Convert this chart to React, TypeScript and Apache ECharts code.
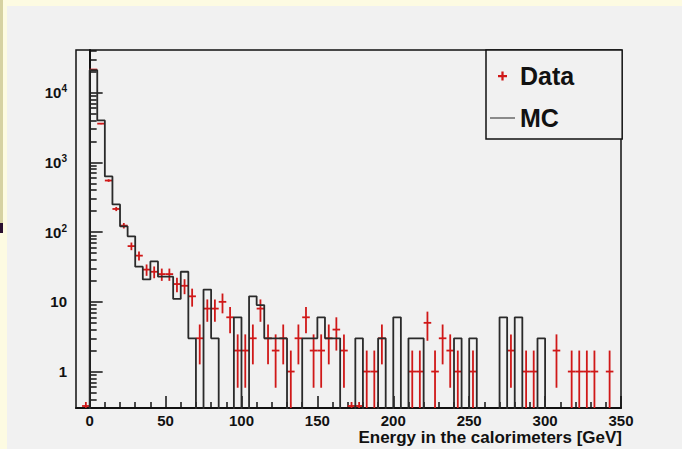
import React, { useEffect, useRef } from "react";
import * as echarts from "echarts";

// ---- data (5 GeV bins from 0 to 350 GeV) ----
const BIN_WIDTH = 5;
const N_BINS = 70;
const binCenters = Array.from({ length: N_BINS }, (_, k) => k * BIN_WIDTH + BIN_WIDTH / 2);
const binLowEdges = Array.from({ length: N_BINS }, (_, k) => k * BIN_WIDTH);

const dataCounts = [
  21500, 3600, 550, 215, 124, 63, 46, 29, 27, 25,
  25, 18, 17, 12, 3, 8, 8, 10, 6, 2,
  2, 3, 8, 3, 2, 3, 1, 3, 6, 2,
  2, 3, 4, 2, 0, 0, 1, 1, 3, 0,
  0, 0, 1, 1, 5, 1, 3, 2, 1, 0,
  1, 0, 0, 0, 0, 2, 0, 1, 1, 0,
  0, 2, 0, 1, 1, 1, 1, 0, 1, 0,
];

const mcCounts = [
  21000, 4000, 630, 250, 121, 87, 32, 21, 38, 23,
  23, 11, 27, 3, 0, 15, 3, 0, 0, 6,
  0, 12, 9, 3, 3, 3, 0, 0, 3, 3,
  6, 3, 3, 0, 0, 3, 0, 0, 3, 0,
  6, 0, 3, 3, 0, 0, 0, 0, 3, 0,
  3, 0, 0, 0, 6, 0, 6, 0, 0, 3,
  0, 0, 0, 0, 0, 0, 0, 0, 0, 0,
];

// empty bins whose marker sits on the lower frame
const emptyBinMarks = [-2.5, 172.5, 177.5];

const xMajorTicks = [0, 50, 100, 150, 200, 250, 300, 350];
const xMinorTicks = [
  10, 20, 30, 40, 60, 70, 80, 90, 110, 120, 130, 140, 160, 170, 180, 190,
  210, 220, 230, 240, 260, 270, 280, 290, 310, 320, 330, 340,
];
const yMajorTicks = [1, 10, 100, 1000, 10000];
const yMinorTicks = [
  0.3, 0.4, 0.5, 0.6, 0.7, 0.8, 0.9,
  2, 3, 4, 5, 6, 7, 8, 9,
  20, 30, 40, 50, 60, 70, 80, 90,
  200, 300, 400, 500, 600, 700, 800, 900,
  2000, 3000, 4000, 5000, 6000, 7000, 8000, 9000,
  20000, 30000, 40000,
];

const X_MIN = -9;
const X_MAX = 350;
const Y_MIN = 0.3;
const Y_MAX = 41000;
const FLOOR = 0.1;

const FONT = "'Liberation Sans', Arial, Helvetica, sans-serif";
const RED = "#d01818";
const INK = "#111111";
const BG = "#f1f1f1";

export default function App() {
  const ref = useRef<HTMLDivElement>(null);

  useEffect(() => {
    if (!ref.current) return;
    const chart = echarts.init(ref.current, null, { renderer: "svg" });

    const mcLine: number[][] = [[binLowEdges[0], FLOOR]];
    for (let k = 0; k < N_BINS; k++) {
      mcLine.push([binLowEdges[k], mcCounts[k] > 0 ? mcCounts[k] : FLOOR]);
    }
    const lastVal = mcCounts[N_BINS - 1] > 0 ? mcCounts[N_BINS - 1] : FLOOR;
    mcLine.push([X_MAX, lastVal]);

    const dataPoints = binCenters
      .map((c, k) => [c, dataCounts[k]])
      .filter((p) => p[1] > 0);

    const renderData = (params: any, api: any) => {
      const x = api.value(0);
      const n = api.value(1);
      const err = Math.sqrt(n);
      const lo = Math.max(n - err, Y_MIN);
      const hi = Math.min(n + err, Y_MAX);
      const c = api.coord([x, n]);
      const l = api.coord([x - BIN_WIDTH / 2, n]);
      const r = api.coord([x + BIN_WIDTH / 2, n]);
      const pLo = api.coord([x, lo]);
      const pHi = api.coord([x, hi]);
      const st = { stroke: RED, lineWidth: 1.8 };
      return {
        type: "group",
        children: [
          { type: "line", shape: { x1: l[0], y1: c[1], x2: r[0], y2: c[1] }, style: st },
          { type: "line", shape: { x1: c[0], y1: pLo[1], x2: c[0], y2: pHi[1] }, style: st },
        ],
      };
    };

    const renderEmpty = (params: any, api: any) => {
      const x = api.value(0);
      const c = api.coord([x, Y_MIN]);
      const l = api.coord([x - BIN_WIDTH / 2, Y_MIN]);
      const r = api.coord([x + BIN_WIDTH / 2, Y_MIN]);
      const st = { stroke: RED, lineWidth: 1.8 };
      return {
        type: "group",
        children: [
          { type: "line", shape: { x1: l[0], y1: c[1] - 2, x2: r[0], y2: c[1] - 2 }, style: st },
          { type: "line", shape: { x1: c[0], y1: c[1] - 6, x2: c[0], y2: c[1] }, style: st },
        ],
      };
    };

    const option: any = {
      animation: false,
      backgroundColor: BG,
      textStyle: { fontFamily: FONT },
      graphic: [
        { type: "rect", shape: { x: 0, y: 0, width: 682, height: 6 }, style: { fill: "#fdfbe2" }, silent: true },
        { type: "rect", shape: { x: 0, y: 0, width: 7, height: 449 }, style: { fill: "#fdfbe2" }, silent: true },
        { type: "rect", shape: { x: 0, y: 0, width: 3, height: 223 }, style: { fill: "#d6d2a2" }, silent: true },
        { type: "rect", shape: { x: 0, y: 223, width: 3, height: 10 }, style: { fill: "#2a1030" }, silent: true },
        {
          type: "text",
          right: 60,
          top: 429,
          style: {
            text: "Energy in the calorimeters [GeV]",
            font: `bold 17px ${FONT}`,
            fill: INK,
          },
        },
      ],
      grid: {
        left: 76,
        top: 50,
        right: 61,
        bottom: 41,
        show: true,
        borderColor: INK,
        borderWidth: 1.5,
        backgroundColor: "transparent",
      },
      legend: {
        left: 486,
        top: 50,
        orient: "vertical",
        padding: [11, 48, 6, 4],
        itemGap: 12,
        itemWidth: 25,
        itemHeight: 9,
        backgroundColor: BG,
        borderColor: INK,
        borderWidth: 1.5,
        selectedMode: false,
        textStyle: { fontSize: 25, fontWeight: "bold", color: INK, fontFamily: FONT, lineHeight: 30 },
        data: [
          { name: "Data", icon: "path://M3,0H5V3H8V5H5V8H3V5H0V3H3Z", itemStyle: { color: RED } },
          { name: "MC", icon: "path://M0,0H25V2H0Z", itemStyle: { color: "#8a8a8a" } },
        ],
      },
      xAxis: [
        {
          type: "value",
          min: X_MIN,
          max: X_MAX,
          axisLine: { show: true, onZero: false, lineStyle: { color: INK, width: 2 } },
          axisTick: { show: true, inside: true, length: 12, customValues: xMajorTicks, lineStyle: { color: INK, width: 1.5 } },
          axisLabel: { customValues: xMajorTicks, margin: 5, fontSize: 15, fontWeight: "bold", color: INK, fontFamily: FONT },
          splitLine: { show: false },
        },
        {
          type: "value",
          min: X_MIN,
          max: X_MAX,
          position: "bottom",
          axisLine: { show: false },
          axisTick: { show: true, inside: true, length: 6, customValues: xMinorTicks, lineStyle: { color: INK, width: 1.5 } },
          axisLabel: { show: false },
          splitLine: { show: false },
        },
      ],
      yAxis: [
        {
          type: "log",
          logBase: 10,
          min: Y_MIN,
          max: Y_MAX,
          axisLine: { show: true, lineStyle: { color: INK, width: 2 } },
          axisTick: { show: true, inside: true, length: 13, customValues: yMajorTicks, lineStyle: { color: INK, width: 1.5 } },
          axisLabel: {
            customValues: yMajorTicks,
            margin: 9,
            fontSize: 15,
            fontWeight: "bold",
            color: INK,
            fontFamily: FONT,
            formatter: (v: number) => {
              if (v < 50) return String(Math.round(v));
              const e = Math.round(Math.log10(v));
              return `{b|10}{s|${e}}`;
            },
            rich: {
              b: { fontSize: 15, fontWeight: "bold", color: INK, fontFamily: FONT, lineHeight: 18 },
              s: { fontSize: 10, fontWeight: "bold", color: INK, fontFamily: FONT, verticalAlign: "top", lineHeight: 18 },
            },
          },
          splitLine: { show: false },
        },
        {
          type: "log",
          logBase: 10,
          min: Y_MIN,
          max: Y_MAX,
          position: "left",
          axisLine: { show: false },
          axisTick: { show: true, inside: true, length: 7, customValues: yMinorTicks, lineStyle: { color: INK, width: 1.5 } },
          axisLabel: { show: false },
          splitLine: { show: false },
        },
      ],
      series: [
        {
          name: "MC",
          type: "line",
          step: "end",
          xAxisIndex: 0,
          yAxisIndex: 0,
          data: mcLine,
          symbol: "none",
          clip: true,
          lineStyle: { color: "#2a2a2a", width: 1.8 },
          itemStyle: { color: "#8a8a8a" },
        },
        {
          name: "Data",
          type: "custom",
          xAxisIndex: 0,
          yAxisIndex: 0,
          renderItem: renderData,
          data: dataPoints,
          clip: true,
          itemStyle: { color: RED },
        },
        {
          type: "custom",
          xAxisIndex: 0,
          yAxisIndex: 0,
          renderItem: renderEmpty,
          data: emptyBinMarks.map((x) => [x, Y_MIN]),
          itemStyle: { color: RED },
        },
      ],
    };

    chart.setOption(option);
    return () => chart.dispose();
  }, []);

  return (
    <div
      ref={ref}
      style={{ position: "fixed", left: 0, top: 0, width: 682, height: 449 }}
    />
  );
}
